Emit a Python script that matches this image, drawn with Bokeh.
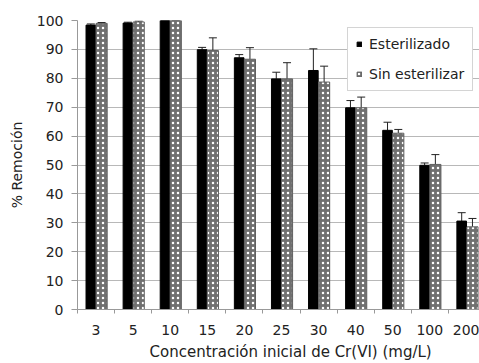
from bokeh.plotting import figure
from bokeh.models import (ColumnDataSource, FixedTicker, Whisker, TeeHead, Legend,
                          LegendItem, Title)
from bokeh.embed import file_html
from bokeh.resources import INLINE

categories = ["3", "5", "10", "15", "20", "25", "30", "40", "50", "100", "200"]
esterilizado = [98.4, 99.1, 100.0, 89.9, 87.1, 79.8, 82.7, 69.8, 62.0, 49.9, 30.6]
esterilizado_err = [0.4, 0.3, 0.0, 0.8, 1.1, 2.3, 7.5, 2.5, 2.8, 0.8, 2.9]
sin_esterilizar = [99.0, 99.5, 100.0, 89.6, 86.6, 79.8, 78.7, 69.8, 61.0, 50.2, 28.6]
sin_esterilizar_err = [0.3, 0.3, 0.0, 4.4, 4.0, 5.6, 5.5, 3.7, 1.3, 3.4, 2.9]

FONT = "DejaVu Sans"
n = len(categories)
centers = [i + 0.5 for i in range(n)]
x_est = [c - 0.14 for c in centers]
x_sin = [c + 0.15 for c in centers]

src_e = ColumnDataSource(dict(x=x_est, top=esterilizado,
                              up=[v + e for v, e in zip(esterilizado, esterilizado_err)]))
src_s = ColumnDataSource(dict(x=x_sin, top=sin_esterilizar,
                              up=[v + e for v, e in zip(sin_esterilizar, sin_esterilizar_err)]))

p = figure(width=479, height=363, output_backend="svg", toolbar_location=None,
           x_range=(0, 10.84), y_range=(0, 100),
           min_border_left=77, min_border_right=0, min_border_top=20, min_border_bottom=54)
p.outline_line_color = None
p.background_fill_color = "white"

r_e = p.vbar(x="x", top="top", width=0.26, source=src_e, fill_color="black", line_color="black")
r_s = p.vbar(x="x", top="top", width=0.30, source=src_s, fill_color="#707070", line_color="#606060",
             hatch_pattern="dot", hatch_color="white", hatch_scale=5, hatch_weight=1.2)

for src in (src_e, src_s):
    w = Whisker(base="x", lower="top", upper="up", source=src, line_color="#222222", line_width=1,
                upper_head=TeeHead(size=8, line_color="#222222", line_width=1), lower_head=None)
    p.add_layout(w)

# axes
p.xaxis.ticker = FixedTicker(ticks=centers, minor_ticks=list(range(n + 1)))
p.xaxis.major_label_overrides = {c: lab for c, lab in zip(centers, categories)}
p.xaxis.major_tick_line_color = None
p.xaxis.minor_tick_line_color = "#999999"
p.xaxis.minor_tick_in = 0
p.xaxis.minor_tick_out = 4
p.xaxis.axis_line_color = "#999999"
p.xaxis.major_label_text_font = FONT
p.xaxis.major_label_text_font_size = "14px"
p.xaxis.major_label_text_color = "#222222"
p.xaxis.major_label_standoff = 9

p.yaxis.ticker = FixedTicker(ticks=list(range(0, 101, 10)))
p.yaxis.minor_tick_line_color = None
p.yaxis.major_tick_line_color = "#999999"
p.yaxis.major_tick_in = 0
p.yaxis.major_tick_out = 6
p.yaxis.axis_line_color = "#999999"
p.yaxis.major_label_text_font = FONT
p.yaxis.major_label_text_font_size = "14px"
p.yaxis.major_label_text_color = "#222222"
p.yaxis.major_label_standoff = 8
p.yaxis.axis_label = "% Remoción"
p.yaxis.axis_label_text_font = FONT
p.yaxis.axis_label_text_font_size = "14px"
p.yaxis.axis_label_text_font_style = "normal"
p.yaxis.axis_label_text_color = "#222222"
p.yaxis.axis_label_standoff = 9

p.xgrid.grid_line_color = None
p.ygrid.grid_line_color = "#b8b8b8"
p.ygrid.grid_line_width = 1

xtitle = Title(text="Concentración inicial de Cr(VI) (mg/L)", align="left", offset=72,
               text_font=FONT, text_font_size="15px", text_font_style="normal",
               text_color="#222222", standoff=6)
p.add_layout(xtitle, "below")

legend = Legend(items=[LegendItem(label="Esterilizado", renderers=[r_e]),
                       LegendItem(label="Sin esterilizar", renderers=[r_s])],
                location=(270, 218), glyph_width=6, glyph_height=6,
                label_text_font=FONT, label_text_font_size="14px", label_text_color="#222222",
                label_height=16, border_line_color="#aaaaaa", background_fill_alpha=1,
                padding=8, spacing=14, label_standoff=7, margin=0)
p.add_layout(legend)

open("out.html", "w").write(file_html(p, INLINE))
